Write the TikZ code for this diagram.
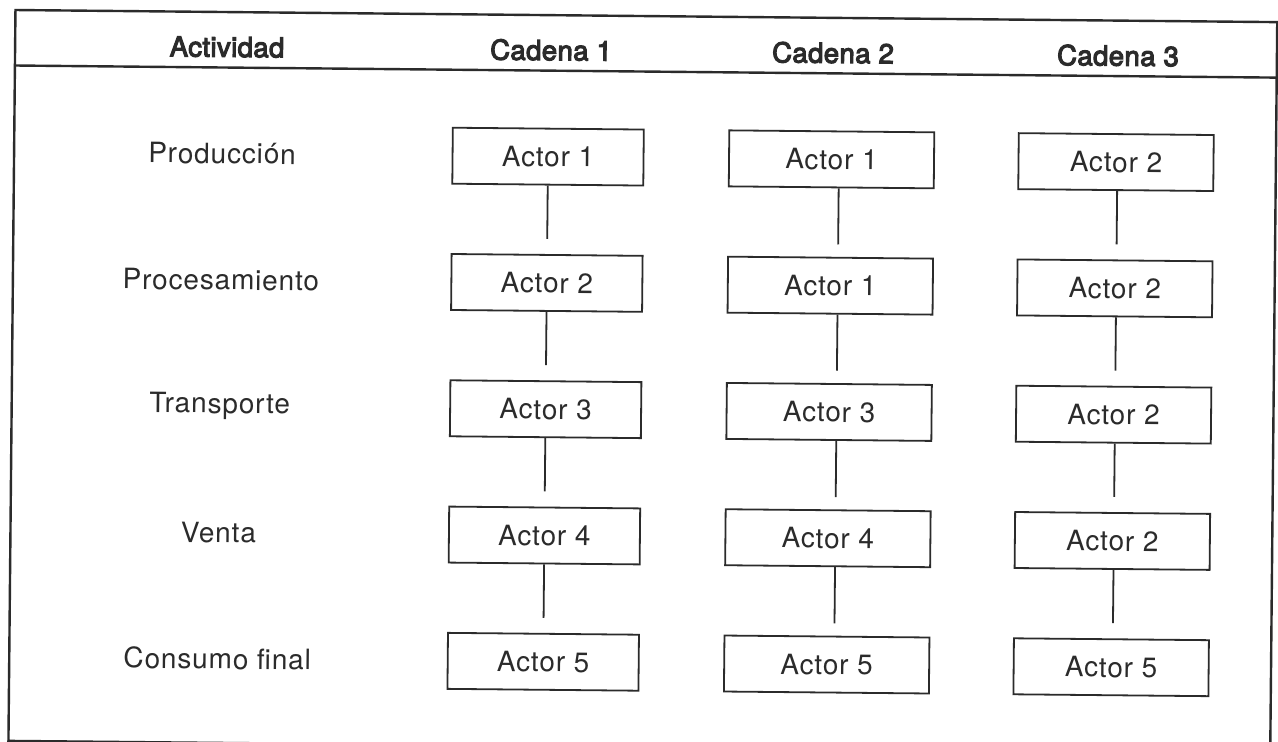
\documentclass[tikz,border=0pt]{standalone}
\usepackage{fontspec}
\setmainfont{TeX Gyre Heros}[LetterSpace=3]
\newfontfamily\headfont{TeX Gyre Heros}[LetterSpace=1.5, FakeBold=4]
\usetikzlibrary{calc}
\definecolor{ink}{HTML}{2B2B2B}
\tikzset{
  actorbox/.style={draw=ink, line width=1.8pt, inner sep=0pt, minimum height=56pt,
    text=ink, font=\fontsize{28}{32}\selectfont},
  rowlabel/.style={text=ink, font=\fontsize{28}{32}\selectfont},
  colhead/.style={text=ink, font=\headfont\fontsize{27.5}{32}\selectfont},
  link/.style={draw=ink, line width=1.8pt},
  frame/.style={draw=ink, line width=2.4pt}
}
\begin{document}
\begin{tikzpicture}[x=1pt, y=-1pt]
\useasboundingbox (0,0) rectangle (1278,742);
\begin{scope}[rotate around={-0.55:(639,371)}, transform shape]
  % outer frame and header rule
  \coordinate (tl) at (12,16);
  \coordinate (br) at (1274,747);
  \draw[frame] (tl) rectangle (br);
  \coordinate (hl) at (12,71.5);
  \coordinate (hr) at (1274,71.5);
  \draw[frame] (hl) -- (hr);

  % column headings
  \node[colhead] (hAct) at (224,51) {Actividad};
  \node[colhead] (hC1)  at (548,51) {Cadena 1};
  \node[colhead] (hC2)  at (830,51) {Cadena 2};
  \node[colhead] (hC3)  at (1115,51) {Cadena 3};

  % activity labels
  \node[rowlabel] (lab1) at (220,157.5) {Producción};
  \node[rowlabel] (lab2) at (220,283.8) {Procesamiento};
  \node[rowlabel] (lab3) at (220,410.1) {Transporte};
  \node[rowlabel] (lab4) at (220,536.4) {Venta};
  \node[rowlabel] (lab5) at (220,662.7) {Consumo final};

  % chain 1
  \node[actorbox, minimum width=191pt] (a1) at (546,157.5) {Actor 1};
  \node[actorbox, minimum width=191pt] (a2) at (546,283.8) {Actor 2};
  \node[actorbox, minimum width=191pt] (a3) at (546,410.1) {Actor 3};
  \node[actorbox, minimum width=191pt] (a4) at (546,536.4) {Actor 4};
  \node[actorbox, minimum width=191pt] (a5) at (546,662.7) {Actor 5};

  % chain 2
  \node[actorbox, minimum width=205pt] (b1) at (829.5,157.5) {Actor 1};
  \node[actorbox, minimum width=205pt] (b2) at (829.5,283.8) {Actor 1};
  \node[actorbox, minimum width=205pt] (b3) at (829.5,410.1) {Actor 3};
  \node[actorbox, minimum width=205pt] (b4) at (829.5,536.4) {Actor 4};
  \node[actorbox, minimum width=205pt] (b5) at (829.5,662.7) {Actor 5};

  % chain 3
  \node[actorbox, minimum width=195pt] (c1) at (1114,157.5) {Actor 2};
  \node[actorbox, minimum width=195pt] (c2) at (1114,283.8) {Actor 2};
  \node[actorbox, minimum width=195pt] (c3) at (1114,410.1) {Actor 2};
  \node[actorbox, minimum width=195pt] (c4) at (1114,536.4) {Actor 2};
  \node[actorbox, minimum width=195pt] (c5) at (1114,662.7) {Actor 5};

  % stems hanging below each box, stopping short of the next one
  \foreach \p/\n in {1/2,2/3,3/4,4/5}{
    \draw[link] (a\p.south) -- ($(a\p.south)!0.78!(a\n.north)$);
    \draw[link] ([xshift=7.5pt]b\p.south) -- ($([xshift=7.5pt]b\p.south)!0.82!([xshift=7.5pt]b\n.north)$);
    \draw[link] ([xshift=1.5pt]c\p.south) -- ($([xshift=1.5pt]c\p.south)!0.78!([xshift=1.5pt]c\n.north)$);
  }
\end{scope}
\end{tikzpicture}
\end{document}
